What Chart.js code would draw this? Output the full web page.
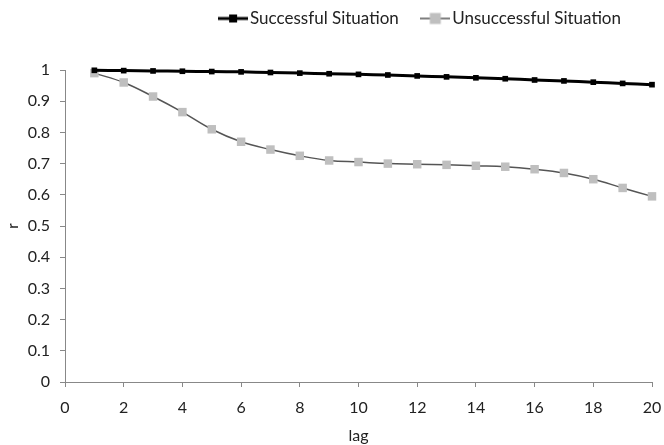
<!DOCTYPE html>
<html>
<head>
<meta charset="utf-8">
<script src="https://cdn.jsdelivr.net/npm/chart.js@4"></script>
<style>
    html, body { margin: 0; padding: 0; background: #fff; }
    #wrap { width: 664px; height: 445px; }
</style>
</head>
<body>
<div id="wrap"><canvas id="myChart"></canvas></div>
<script>
const lags = [1, 2, 3, 4, 5, 6, 7, 8, 9, 10, 11, 12, 13, 14, 15, 16, 17, 18, 19, 20];
const successful = [0.999, 0.998, 0.997, 0.996, 0.995, 0.994, 0.992, 0.990, 0.988, 0.986, 0.984, 0.981, 0.978, 0.975, 0.972, 0.968, 0.965, 0.961, 0.957, 0.953];
const unsuccessful = [0.990, 0.960, 0.915, 0.865, 0.810, 0.770, 0.745, 0.725, 0.710, 0.705, 0.700, 0.698, 0.696, 0.693, 0.690, 0.682, 0.670, 0.650, 0.622, 0.595];
const xTicks = [0, 2, 4, 6, 8, 10, 12, 14, 16, 18, 20];
const yTicks = [0, 0.1, 0.2, 0.3, 0.4, 0.5, 0.6, 0.7, 0.8, 0.9, 1];

const font = "Lato";

// small legend icon: line with a square in the middle
function legendIcon(lineColor, lineWidth, boxColor, boxSize) {
    let c = document.createElement("canvas");
    c.width = 30;
    c.height = 14;
    let g = c.getContext("2d");
    g.strokeStyle = lineColor;
    g.lineWidth = lineWidth;
    g.beginPath();
    g.moveTo(0, 7);
    g.lineTo(30, 7);
    g.stroke();
    g.fillStyle = boxColor;
    g.fillRect(15 - boxSize / 2, 7 - boxSize / 2, boxSize, boxSize);
    return c;
}

const icons = [
    legendIcon("#000", 3, "#000", 8),
    legendIcon("#555", 1.5, "#bfbfbf", 11)
];

const toPoints = (vals) => vals.map((v, i) => ({ x: lags[i], y: v }));

// push the plot down below the legend, and slide the legend sideways
const legendSpace = {
    id: "legendSpace",
    beforeInit(chart) {
        const fit = chart.legend.fit;
        chart.legend.fit = function () {
            fit.bind(chart.legend)();
            this.height += 33;
        };
    },
    afterLayout(chart) {
        chart.legend.left -= 15;
        chart.legend.right -= 15;
    }
};

const ctx = document.getElementById("myChart").getContext("2d");
const myChart = new Chart(ctx, {
    type: "line",
    data: {
        datasets: [{
            label: "Successful Situation",
            data: toPoints(successful),
            borderColor: "#000",
            borderWidth: 3,
            backgroundColor: "#000",
            pointStyle: "rect",
            pointRadius: 4,
            pointBorderWidth: 0,
            tension: 0.4,
            clip: false
        }, {
            label: "Unsuccessful Situation",
            data: toPoints(unsuccessful),
            borderColor: "#555",
            borderWidth: 1.5,
            backgroundColor: "#bfbfbf",
            pointStyle: "rect",
            pointRadius: 6,
            pointBorderWidth: 0,
            tension: 0.4,
            clip: false
        }]
    },
    options: {
        responsive: true,
        maintainAspectRatio: false,
        animation: false,
        layout: { padding: { left: 0, right: 0, top: -18, bottom: 0 } },
        plugins: {
            tooltip: { enabled: false },
            legend: {
                display: true,
                position: "top",
                align: "end",
                labels: {
                    usePointStyle: true,
                    color: "#222",
                    font: { family: font, size: 17 },
                    padding: 28,
                    generateLabels: (chart) => chart.data.datasets.map((ds, i) => ({
                        text: ds.label,
                        pointStyle: icons[i],
                        fontColor: "#222",
                        datasetIndex: i,
                        hidden: false,
                        lineWidth: 0
                    }))
                }
            }
        },
        scales: {
            x: {
                type: "linear",
                min: 0,
                max: 20,
                afterFit: (s) => {
                    s.height = 63;
                    s.paddingLeft = 0;
                    s.paddingRight = 12;
                },
                afterBuildTicks: (s) => { s.ticks = xTicks.map(v => ({ value: v })); },
                grid: { display: true, drawOnChartArea: false, drawTicks: true, tickLength: 5, color: "#888" },
                border: { display: true, color: "#888", width: 1 },
                ticks: { color: "#222", font: { family: font, size: 16 }, padding: 11, maxRotation: 0 },
                title: { display: true, text: "lag", color: "#222", font: { family: font, size: 16 }, padding: { top: 2, bottom: 0 } }
            },
            y: {
                type: "linear",
                min: 0,
                max: 1,
                afterFit: (s) => { s.width = 65; },
                afterBuildTicks: (s) => { s.ticks = yTicks.map(v => ({ value: v })); },
                grid: { display: true, drawOnChartArea: false, drawTicks: true, tickLength: 5, color: "#888" },
                border: { display: true, color: "#888", width: 1 },
                ticks: {
                    color: "#222",
                    font: { family: font, size: 16 },
                    padding: 10,
                    callback: (v) => String(Math.round(v * 10) / 10)
                },
                title: { display: true, text: "r", color: "#222", font: { family: font, size: 15 }, padding: { top: 4, bottom: 2 } }
            }
        }
    },
    plugins: [legendSpace]
});
</script>
</body>
</html>
